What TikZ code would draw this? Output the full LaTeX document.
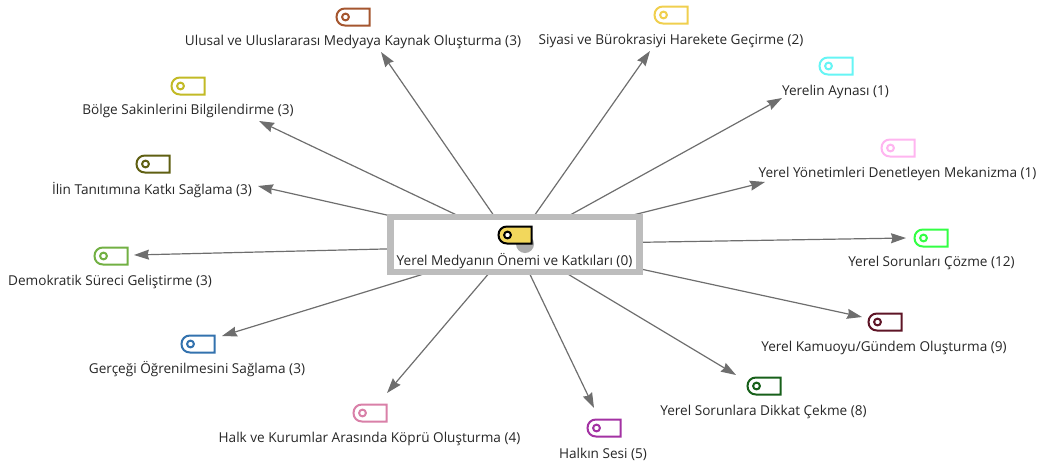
\documentclass[tikz,border=0pt]{standalone}
\usepackage{fontspec}
\setmainfont{Open Sans}
\usetikzlibrary{arrows.meta,backgrounds,calc}
\definecolor{hubgray}{HTML}{BDBDBD}
\definecolor{shadowgray}{HTML}{ABABAB}
\definecolor{spokegray}{HTML}{6E6E6E}
\definecolor{textgray}{HTML}{262626}
\definecolor{cHub}{HTML}{F2D75C}
\definecolor{cUlusal}{HTML}{A5562F}
\definecolor{cSiyasi}{HTML}{F0CF4E}
\definecolor{cAyna}{HTML}{66F5F5}
\definecolor{cDenet}{HTML}{FFB5F0}
\definecolor{cCoz}{HTML}{33FF44}
\definecolor{cGundem}{HTML}{5E1526}
\definecolor{cDikkat}{HTML}{17601A}
\definecolor{cSes}{HTML}{A332A3}
\definecolor{cKopru}{HTML}{D980A8}
\definecolor{cGercek}{HTML}{3372AE}
\definecolor{cDemo}{HTML}{72B043}
\definecolor{cIl}{HTML}{5F5F12}
\definecolor{cBolge}{HTML}{C2BA26}
\tikzset{
  x=1pt,y=-1pt,
  lab/.style={font=\fontsize{13.6pt}{15pt}\selectfont,text=textgray,inner sep=0pt,outer sep=0pt},
  hubbox/.style={draw=hubgray,fill=white,line width=6.8pt,minimum width=249pt,minimum height=55pt,inner sep=0pt,outer sep=0pt},
  spoke/.style={draw=spokegray,line width=1.2pt,-{Stealth[length=15pt,width=10pt,inset=1.5pt]}},
  pics/tag/.style n args={2}{code={
    \draw[draw=#1,fill=#2,line width=2pt]
      (16.5,-8.5) -- (-8,-8.5) .. controls (-13,-8.5) and (-16.5,-5) .. (-16.5,0)
      .. controls (-16.5,5) and (-13,8.5) .. (-8,8.5) -- (16.5,8.5) -- cycle;
    \draw[draw=#1,fill=white,line width=2pt] (-7.5,0) circle (3.4pt);
  }}
}
\begin{document}
\begin{tikzpicture}
\useasboundingbox (0,0) rectangle (1040,463);
% hub
\node[hubbox] (hub) at (514.8,244.5) {};
\fill[shadowgray] (525,244) circle (9pt);
\pic at (515,235) {tag={black}{cHub}};
\node[lab] (hubtext) at (514.5,261) {Yerel Medyanın Önemi ve Katkıları (0)};
% targets
\pic at (353,17) {tag={cUlusal}{white}};
\node[lab] (ulusal) at (353,42) {Ulusal ve Uluslararası Medyaya Kaynak Oluşturma (3)};
\pic at (671,15) {tag={cSiyasi}{white}};
\node[lab] (siyasi) at (671,41) {Siyasi ve Bürokrasiyi Harekete Geçirme (2)};
\pic at (836,66) {tag={cAyna}{white}};
\node[lab] (ayna) at (835.5,92) {Yerelin Aynası (1)};
\pic at (898,148) {tag={cDenet}{white}};
\node[lab] (denet) at (897.5,174) {Yerel Yönetimleri Denetleyen Mekanizma (1)};
\pic at (931,238) {tag={cCoz}{white}};
\node[lab] (coz) at (931.5,263) {Yerel Sorunları Çözme (12)};
\pic at (885,322) {tag={cGundem}{white}};
\node[lab] (gundem) at (884,348) {Yerel Kamuoyu/Gündem Oluşturma (9)};
\pic at (764,386) {tag={cDikkat}{white}};
\node[lab] (dikkat) at (763.5,412) {Yerel Sorunlara Dikkat Çekme (8)};
\pic at (604,428) {tag={cSes}{white}};
\node[lab] (ses) at (603,454) {Halkın Sesi (5)};
\pic at (370,413) {tag={cKopru}{white}};
\node[lab] (kopru) at (369.5,439) {Halk ve Kurumlar Arasında Köprü Oluşturma (4)};
\pic at (198,344) {tag={cGercek}{white}};
\node[lab] (gercek) at (197,369) {Gerçeği Öğrenilmesini Sağlama (3)};
\pic at (111,256) {tag={cDemo}{white}};
\node[lab] (demo) at (110,282) {Demokratik Süreci Geliştirme (3)};
\pic at (153,164) {tag={cIl}{white}};
\node[lab] (il) at (152,190) {İlin Tanıtımına Katkı Sağlama (3)};
\pic at (188,86) {tag={cBolge}{white}};
\node[lab] (bolge) at (188,111) {Bölge Sakinlerini Bilgilendirme (3)};
% arrow tips, placed from their labels
\coordinate (tUlusal) at ($(ulusal.center)+(28,10)$);
\coordinate (tSiyasi) at ($(siyasi.center)+(-21,10)$);
\coordinate (tAyna) at ($(ayna.center)+(-53.5,6)$);
\coordinate (tDenet) at ($(denet.center)+(-132.5,8)$);
\coordinate (tCoz) at ($(coz.center)+(-25.5,-25)$);
\coordinate (tGundem) at ($(gundem.center)+(-22,-31)$);
\coordinate (tDikkat) at ($(dikkat.center)+(-27.5,-37)$);
\coordinate (tSes) at ($(ses.center)+(-9,-46)$);
\coordinate (tKopru) at ($(kopru.center)+(17.5,-46)$);
\coordinate (tGercek) at ($(gercek.center)+(25,-33)$);
\coordinate (tDemo) at ($(demo.center)+(24,-27)$);
\coordinate (tIl) at ($(il.center)+(106,-4)$);
\coordinate (tBolge) at ($(bolge.center)+(71,10)$);
\begin{scope}[on background layer]
\draw[spoke] (hub.126.4) -- (tUlusal);
\draw[spoke] (hub.56) -- (tSiyasi);
\draw[spoke] (hub.28.4) -- (tAyna);
\draw[spoke] (hub.14.2) -- (tDenet);
\draw[spoke] (hub.1.1) -- (tCoz);
\draw[spoke] (hub.-11.7) -- (tGundem);
\draw[spoke] (hub.-29.4) -- (tDikkat);
\draw[spoke] (hub.-63.4) -- (tSes);
\draw[spoke] (hub.-132.4) -- (tKopru);
\draw[spoke] (hub.-162.1) -- (tGercek);
\draw[spoke] (hub.-178) -- (tDemo);
\draw[spoke] (hub.167.4) -- (tIl);
\draw[spoke] (hub.153.8) -- (tBolge);
\end{scope}
\end{tikzpicture}
\end{document}
